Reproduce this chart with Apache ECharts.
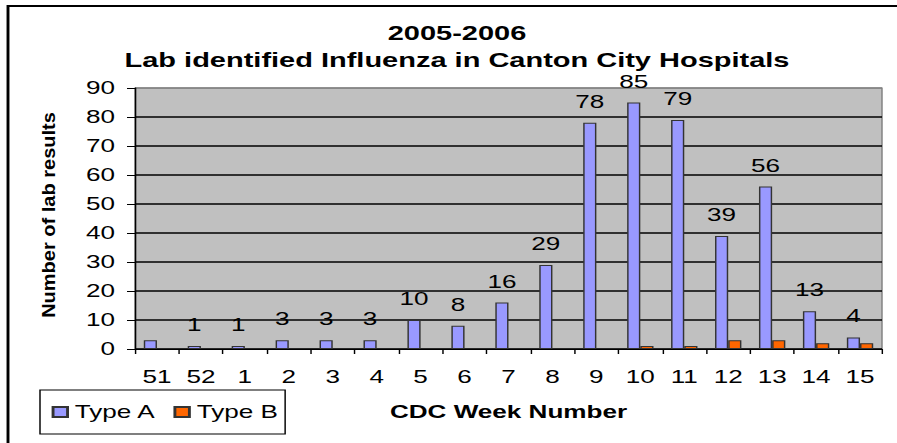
<!DOCTYPE html>
<html>
<head>
<meta charset="utf-8">
<script src="https://cdn.jsdelivr.net/npm/echarts@6/dist/echarts.min.js"></script>
<style>
  html, body { margin: 0; padding: 0; background: #fff; overflow: hidden; }
  #wrap { width: 897px; height: 443px; overflow: hidden; }
  #chart { height: 443px; transform-origin: 0 0; }
</style>
</head>
<body>
<div id="wrap"><div id="chart"></div></div>
<script>
// ---- data ----
const weeks = ['51', '52', '1', '2', '3', '4', '5', '6', '7', '8', '9', '10', '11', '12', '13', '14', '15'];
const typeA = [3, 1, 1, 3, 3, 3, 10, 8, 16, 29, 78, 85, 79, 39, 56, 13, 4];
const typeB = [0, 0, 0, 0, 0, 0, 0, 0, 0, 0, 0, 1, 1, 3, 3, 2, 2];
const unlabeledWeeks = ['51'];
const yTicks = { min: 0, max: 90, interval: 10 };
const titleLines = ['2005-2006', 'Lab identified Influenza in Canton City Hospitals'];
const seriesNames = ['Type A', 'Type B'];
const xName = 'CDC Week Number';
const yName = 'Number of lab results';

// The reference is horizontally stretched; draw in narrower space and stretch.
const S = 1.45;
const W = 897 / S;
const el = document.getElementById('chart');
el.style.width = W + 'px';
el.style.transform = 'scaleX(' + S + ')';

const FONT = "'Liberation Sans', Arial, sans-serif";
const gridLeft = 135 / S, gridRight = W - 882 / S;

const chart = echarts.init(el, null, { renderer: 'svg', width: W, height: 443 });

const dataA = typeA.map((v, i) => unlabeledWeeks.includes(weeks[i]) ? { value: v, label: { show: false } } : v);
const dataB = typeB.map(v => v === 0 ? { value: v, itemStyle: { borderWidth: 0 } } : v);

const splitColors = [];
for (let v = yTicks.min; v <= yTicks.max; v += yTicks.interval) splitColors.push(v === yTicks.max ? '#808080' : '#000000');

chart.setOption({
  animation: false,
  backgroundColor: '#ffffff',
  textStyle: { fontFamily: FONT },
  title: {
    text: titleLines.join('\n'),
    left: 457 / S,
    textAlign: 'center',
    top: 19.5,
    padding: 0,
    textStyle: { fontFamily: FONT, fontWeight: 'bold', fontSize: 20, lineHeight: 27, color: '#000' }
  },
  legend: {
    data: seriesNames,
    left: 40 / S,
    top: 390,
    orient: 'horizontal',
    padding: [13, 5, 13, 8],
    itemWidth: 10,
    itemHeight: 10,
    itemGap: 12,
    icon: 'rect',
    borderColor: '#000',
    borderWidth: 1,
    textStyle: { fontFamily: FONT, fontSize: 18, color: '#000' }
  },
  grid: {
    left: gridLeft, right: gridRight, top: 88, bottom: 94,
    show: true, backgroundColor: '#C0C0C0', borderColor: '#808080', borderWidth: 1,
    containLabel: false
  },
  xAxis: {
    type: 'category',
    data: weeks,
    name: xName,
    nameLocation: 'middle',
    nameGap: 54,
    nameTextStyle: { fontFamily: FONT, fontWeight: 'bold', fontSize: 18, color: '#000' },
    axisLine: { lineStyle: { color: '#000', width: 1 } },
    axisTick: { show: true, length: 5, lineStyle: { color: '#000' } },
    axisLabel: { margin: 19, fontSize: 18, color: '#000', fontFamily: FONT }
  },
  yAxis: {
    type: 'value',
    min: yTicks.min, max: yTicks.max, interval: yTicks.interval,
    axisLine: { show: true, lineStyle: { color: '#000', width: 1 } },
    axisTick: { show: true, length: 8 / S, lineStyle: { color: '#000' } },
    axisLabel: { margin: 20 / S, fontSize: 18, color: '#000', fontFamily: FONT },
    splitLine: { show: true, lineStyle: { color: splitColors, width: 1.5 } }
  },
  graphic: [
    {
      type: 'rect', silent: true, z: -1,
      shape: { x: 8 / S, y: 6, width: W + 20, height: 500 },
      style: { fill: 'none', stroke: '#000', lineWidth: 2 }
    },
    {
      type: 'text', silent: true,
      x: 48 / S, y: 215,
      rotation: Math.PI / 2,
      scaleX: 1.54,
      style: {
        text: yName, fill: '#000',
        font: 'bold 13px ' + FONT,
        textAlign: 'center', textVerticalAlign: 'middle'
      }
    }
  ],
  series: [
    {
      name: seriesNames[0], type: 'bar', data: dataA,
      barWidth: '30%', barGap: '0%',
      itemStyle: { color: '#9999FF', borderColor: '#333', borderWidth: 1 },
      label: { show: true, position: 'top', distance: 12, fontSize: 18, color: '#000', fontFamily: FONT }
    },
    {
      name: seriesNames[1], type: 'bar', data: dataB,
      barWidth: '30%', barGap: '0%',
      itemStyle: { color: '#FF6600', borderColor: '#333', borderWidth: 1 },
      label: { show: false }
    }
  ]
});
</script>
</body>
</html>
